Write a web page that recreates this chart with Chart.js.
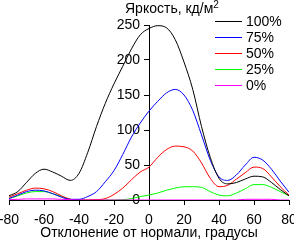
<!DOCTYPE html>
<html>
<head>
<meta charset="utf-8">
<script src="https://cdn.jsdelivr.net/npm/chart.js@4.4.1/dist/chart.umd.min.js"></script>
<style>
  html, body { margin: 0; padding: 0; background: #fff; }
  #wrap { width: 294px; height: 242px; }
</style>
</head>
<body>
<div id="wrap"><canvas id="brightness_chart"></canvas></div>
<script>
// угол отклонения от нормали, градусы
const angles = [-80, -75, -70, -65, -60, -55, -50, -45, -40, -35, -30, -25, -20, -15, -10, -5,
                0, 5, 10, 15, 20, 25, 30, 35, 40, 45, 50, 55, 60, 65, 70, 75, 80];

const level100 = [6, 12, 25, 38, 44, 40, 34, 28, 38, 68, 105, 138, 166, 191, 216, 236,
                  245, 249, 246, 229, 197, 158, 105, 61, 31, 23, 25, 30, 34, 33, 25, 15, 6];
const level75 = [2, 7, 12, 14, 13, 9, 4, 1, 1, 5, 12, 26, 42, 65, 90, 110,
                 127, 141, 153, 158, 150, 128, 93, 57, 33, 28, 36, 50, 61, 57, 44, 27, 11];
const level50 = [4, 9, 14, 17, 16, 12, 6, 1, 0, 0, 0.5, 2, 8, 17, 29, 40,
                 47, 61, 72, 77, 76, 70, 53, 31, 19, 21, 30, 39, 47, 45, 33, 19, 7];
const level25 = [2, 6, 10, 12, 12, 9, 5, 1, 0, 0, 0, 0, 0, 0.5, 2, 5,
                 7, 10, 14, 17, 19, 19, 18, 12, 7, 6, 10, 16, 22, 22, 18, 12, 6];
const level0 = [0.5, 1, 1.5, 1.5, 1.5, 1.5, 1, 0.5, 0, 0, 0, 0, 0, 0, 0, 0,
                0, 0, 0, 0, 0, 0, 0, 0, 0, 0, 0, 1, 1, 1, 1, 0, 0];

const seriesNames = ["100%", "75%", "50%", "25%", "0%"];
const seriesColors = ["#000000", "#0000ff", "#ff0000", "#00ff00", "#ff00ff"];
const seriesValues = [level100, level75, level50, level25, level0];

const yTitle = "Яркость, кд/м";
const xTitle = "Отклонение от нормали, градусы";

Chart.defaults.font.family = "'Liberation Sans', Arial, sans-serif";
Chart.defaults.font.size = 14;
Chart.defaults.color = "#000";

// заголовок оси Y и легенда поверх области графика
const overlay = {
    id: 'overlay',
    afterDraw(chart) {
        const c = chart.ctx;
        const x0 = chart.scales.x.getPixelForValue(0);
        c.save();
        c.fillStyle = "#000";
        c.textBaseline = "alphabetic";
        c.font = "14px 'Liberation Sans', Arial, sans-serif";
        c.fillText(yTitle, x0 - 24, 13);
        const w = c.measureText(yTitle).width;
        c.font = "10px 'Liberation Sans', Arial, sans-serif";
        c.fillText("2", x0 - 24 + w, 8);

        c.font = "14px 'Liberation Sans', Arial, sans-serif";
        c.textBaseline = "middle";
        chart.data.datasets.forEach((ds, i) => {
            const y = 21.5 + i * 16;
            c.strokeStyle = ds.borderColor;
            c.lineWidth = 1;
            c.beginPath();
            c.moveTo(215, y);
            c.lineTo(242, y);
            c.stroke();
            c.fillText(ds.label, 246, y + 1);
        });
        c.restore();
    }
};

const ctx = document.getElementById("brightness_chart");
const brightness_chart = new Chart(ctx, {
    type: 'line',
    data: {
        datasets: seriesNames.map((name, i) => ({
            label: name,
            data: angles.map((a, j) => ({x: a, y: seriesValues[i][j]})),
            borderColor: seriesColors[i],
            backgroundColor: seriesColors[i],
            borderWidth: 1,
            pointRadius: 0,
            cubicInterpolationMode: 'monotone',
            order: i === 4 ? -1 : i
        }))
    },
    options: {
        responsive: true,
        maintainAspectRatio: false,
        animation: false,
        layout: {
            padding: {left: 9, right: 5, top: 25, bottom: 0}
        },
        plugins: {
            legend: { display: false },
            tooltip: { enabled: false }
        },
        scales: {
            x: {
                type: 'linear',
                min: -80,
                max: 80,
                ticks: { stepSize: 20, padding: 7, maxRotation: 0 },
                grid: { drawOnChartArea: false, tickLength: 5, color: "#000" },
                border: { color: "#000" },
                title: { display: true, text: xTitle, padding: 0 },
                afterFit(s) {
                    s.height = 42;
                    s.paddingLeft = 0;
                    s.paddingRight = 0;
                }
            },
            y: {
                type: 'linear',
                min: 0,
                max: 250,
                position: 'center', // ось Y проходит через 0°
                ticks: { stepSize: 50, padding: 4 },
                grid: { drawOnChartArea: false, tickLength: 5, color: "#000" },
                border: { color: "#000" },
                afterFit(s) { s.width = 0; }
            }
        }
    },
    plugins: [overlay]
});
</script>
</body>
</html>
